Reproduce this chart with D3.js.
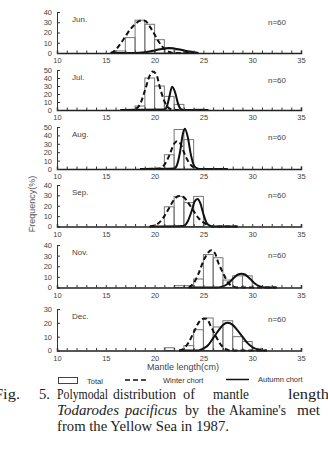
<!DOCTYPE html>
<html>
<head>
<meta charset="utf-8">
<script src="https://cdn.jsdelivr.net/npm/d3@7"></script>
<style>
  body { margin: 0; background: #fff; }
  svg { display: block; }
</style>
</head>
<body>
<svg id="chart" width="328" height="467"></svg>
<script>
// month labels, sample sizes and y-axis maxima
let months = ["Jun.", "Jul.", "Aug.", "Sep.", "Nov.", "Dec."]
let sampleN = ["n=60", "n=60", "n=60", "n=60", "n=60", "n=60"]
let yMax = [40, 50, 50, 40, 40, 30]
let xTicks = [10, 15, 20, 25, 30, 35]

// histogram: [bin start (cm), frequency %]
let totalJun = [[16, 2], [17, 15], [18, 32], [19, 28], [20, 13], [21, 4], [22, 3], [23, 1]]
let totalJul = [[18, 5], [19, 40], [20, 30], [21, 17], [22, 7], [24, 1]]
let totalAug = [[21, 17], [22, 47], [23, 35]]
let totalSep = [[21, 19], [22, 29], [23, 23], [24, 29]]
let totalNov = [[22, 1.7], [23, 1.7], [24, 8], [25, 31], [26, 28], [27, 7], [28, 11], [29, 11]]
let totalDec = [[21, 2], [23, 3.5], [24, 15], [25, 23.5], [26, 17], [27, 21.5], [28, 10], [29, 6.5], [30, 1.5]]

// winter cohort curve points: [length, %]
let winterJun = [[15.5, 0], [16, 3], [16.5, 9], [17, 16], [17.5, 23], [18, 28], [18.5, 31.5], [19, 31.5], [19.5, 26], [20, 18], [20.5, 10], [21, 4], [21.5, 1], [22, 0], [24.5, 0]]
let winterJul = [[16.5, 0], [17.5, 0], [18, 1], [18.5, 7], [19, 24], [19.5, 43], [19.8, 48], [20.2, 44], [20.5, 30], [21, 11], [21.5, 2], [22, 0], [25.5, 0]]
let winterAug = [[18.5, 0], [20.5, 0.5], [21, 5], [21.5, 16], [22, 30], [22.3, 33], [22.7, 29], [23, 20], [23.5, 8], [24, 2], [24.5, 0], [27.5, 0]]
let winterSep = [[19.5, 0], [20, 1], [20.5, 4], [21, 10], [21.5, 18], [22, 26], [22.5, 29.5], [23, 28], [23.5, 22], [24, 15], [24.5, 8], [25, 4], [25.5, 1], [26, 0], [28.5, 0]]
let winterNov = [[23.5, 0], [24, 4], [24.5, 13], [25, 25], [25.5, 33], [25.8, 35], [26.2, 32], [26.5, 24], [27, 14], [27.5, 5], [28, 1], [28.5, 0], [32.5, 0]]
let winterDec = [[22.5, 0], [23, 1.5], [23.5, 6], [24, 13], [24.5, 20], [25, 23], [25.3, 23], [25.8, 17], [26.3, 10], [26.8, 4], [27.3, 1], [27.8, 0], [31.5, 0]]

// autumn cohort curve points
let autumnJun = [[15.5, 0], [18, 0], [19, 0.8], [20, 2.5], [21, 4.5], [21.5, 5], [22, 4.5], [23, 2.5], [24, 0.8], [24.5, 0]]
let autumnJul = [[16.5, 0], [21, 0.5], [21.3, 6], [21.5, 16], [21.8, 29], [22.1, 22], [22.4, 8], [22.7, 1], [23, 0], [25.5, 0]]
let autumnAug = [[18.5, 0], [22, 0.5], [22.3, 5], [22.6, 20], [22.9, 42], [23.1, 48], [23.4, 38], [23.7, 18], [24, 5], [24.3, 1], [24.6, 0], [27.5, 0]]
let autumnSep = [[19.5, 0], [23, 0.5], [23.4, 5], [23.8, 15], [24.1, 24], [24.4, 26.5], [24.7, 22], [25, 12], [25.3, 4], [25.6, 1], [26, 0], [28.5, 0]]
let autumnNov = [[23.5, 0], [26.5, 0], [27, 1], [27.5, 3.5], [28, 8], [28.5, 12], [28.9, 13], [29.3, 12], [29.8, 8], [30.3, 3.5], [30.8, 1], [31.3, 0], [32.5, 0]]
let autumnDec = [[22.5, 0], [24.5, 0], [25, 1.5], [25.5, 4], [26, 9], [26.5, 14], [27, 18.5], [27.5, 20], [28, 18.5], [28.5, 14.5], [29, 10], [29.5, 5.5], [30, 2.5], [30.5, 0.8], [31, 0], [31.5, 0]]

let totals = [totalJun, totalJul, totalAug, totalSep, totalNov, totalDec]
let winters = [winterJun, winterJul, winterAug, winterSep, winterNov, winterDec]
let autumns = [autumnJun, autumnJul, autumnAug, autumnSep, autumnNov, autumnDec]

// panel layout (pixel rows of each plot area)
let panelTops = [12, 70, 127, 185, 245, 309]
let panelBottoms = [53, 110, 169, 226.5, 287.5, 350.5]

let svg = d3.select("#chart")
let sans = "'Liberation Sans', Arial, sans-serif"
let serif = "'Liberation Serif', 'Times New Roman', serif"

let xScale = d3.scaleLinear().domain([10, 35]).range([57, 301])

function drawPanel(i){
    let yScale = d3.scaleLinear().domain([0, yMax[i]]).range([panelBottoms[i], panelTops[i]])
    let g = svg.append("g")

    g.selectAll(".bar").data(totals[i]).enter().append("rect")
        .attr("x", d => xScale(d[0]))
        .attr("width", d => xScale(d[0] + 1) - xScale(d[0]))
        .attr("y", d => yScale(d[1]))
        .attr("height", d => yScale(0) - yScale(d[1]))
        .attr("fill", "none")
        .attr("stroke", "#777")
        .attr("stroke-width", 1)

    let line = d3.line()
        .x(d => xScale(d[0]))
        .y(d => yScale(d[1]))
        .curve(d3.curveMonotoneX)

    g.append("path").datum(winters[i])
        .attr("d", line)
        .attr("fill", "none")
        .attr("stroke", "#111")
        .attr("stroke-width", 2)
        .attr("stroke-dasharray", "5,3")

    g.append("path").datum(autumns[i])
        .attr("d", line)
        .attr("fill", "none")
        .attr("stroke", "#111")
        .attr("stroke-width", 2)

    let axisX = d3.axisBottom(xScale)
        .tickValues(d3.range(10, 36))
        .tickSize(-2.5)
        .tickPadding(5)
        .tickFormat(d => xTicks.includes(d) ? d : "")
    let gx = g.append("g")
        .attr("transform", `translate(0,${panelBottoms[i]})`)
        .call(axisX)
    gx.select(".domain").attr("stroke", "#222").attr("stroke-width", 1.5)
    gx.selectAll(".tick line").attr("stroke", "#333")
    gx.selectAll("text").attr("font-family", sans).attr("font-size", 7.5).attr("fill", "#444")

    let axisY = d3.axisLeft(yScale)
        .ticks(yMax[i] / 10)
        .tickSize(-3)
        .tickPadding(5)
    let gy = g.append("g")
        .attr("transform", `translate(${xScale(10)},0)`)
        .call(axisY)
    gy.select(".domain").attr("stroke", "#333")
    gy.selectAll(".tick line").attr("stroke", "#333")
    gy.selectAll("text").attr("font-family", sans).attr("font-size", 7.5).attr("fill", "#444")

    g.append("text")
        .attr("x", 72).attr("y", panelTops[i] + 9.5)
        .attr("font-family", sans).attr("font-size", 8).attr("fill", "#444")
        .text(months[i])
    g.append("text")
        .attr("x", 268).attr("y", panelTops[i] + 13)
        .attr("font-family", sans).attr("font-size", 8).attr("fill", "#444")
        .text(sampleN[i])
}

months.forEach((m, i) => drawPanel(i))

// axis titles
svg.append("text")
    .attr("transform", "translate(35,204) rotate(-90)")
    .attr("text-anchor", "middle")
    .attr("font-family", sans).attr("font-size", 9).attr("fill", "#555")
    .text("Frequency(%)")

svg.append("text")
    .attr("x", 183).attr("y", 370)
    .attr("text-anchor", "middle")
    .attr("font-family", sans).attr("font-size", 9).attr("fill", "#444")
    .text("Mantle length(cm)")

// legend
let legend = svg.append("g").attr("font-family", sans).attr("font-size", 7.5).attr("fill", "#333")
legend.append("rect").attr("x", 58.5).attr("y", 377.5).attr("width", 19).attr("height", 6)
    .attr("fill", "none").attr("stroke", "#444")
legend.append("text").attr("x", 87).attr("y", 384).text("Total")
legend.append("line").attr("x1", 125).attr("x2", 148).attr("y1", 380).attr("y2", 380)
    .attr("stroke", "#111").attr("stroke-width", 1.5).attr("stroke-dasharray", "5,3")
legend.append("text").attr("x", 163).attr("y", 383).text("Winter chort")
legend.append("line").attr("x1", 226).attr("x2", 249).attr("y1", 379.5).attr("y2", 379.5)
    .attr("stroke", "#111").attr("stroke-width", 1.5)
legend.append("text").attr("x", 258).attr("y", 382).text("Autumn chort")

// caption, word by word as justified in the scan: [word, x, width]
let caption = svg.append("g").attr("font-family", serif).attr("font-size", 14).attr("fill", "#222")
function words(list, y, italic){
    list.forEach(w => caption.append("text")
        .attr("x", w[1]).attr("y", y)
        .attr("textLength", w[2]).attr("lengthAdjust", "spacingAndGlyphs")
        .attr("font-style", italic ? "italic" : null)
        .text(w[0]))
}
words([["Fig.", -6, 26], ["5.", 39, 11], ["Polymodal", 57, 51], ["distribution", 113, 63], ["of", 183, 12], ["mantle", 213, 36], ["length", 288, 41]], 399)
words([["Todarodes", 57, 62], ["pacificus", 125, 52]], 415, true)
words([["by", 185, 14], ["the", 207, 18], ["Akamine's", 229, 57], ["met", 297, 23]], 415)
words([["from the Yellow Sea in 1987.", 57, 172]], 431)
</script>
</body>
</html>
